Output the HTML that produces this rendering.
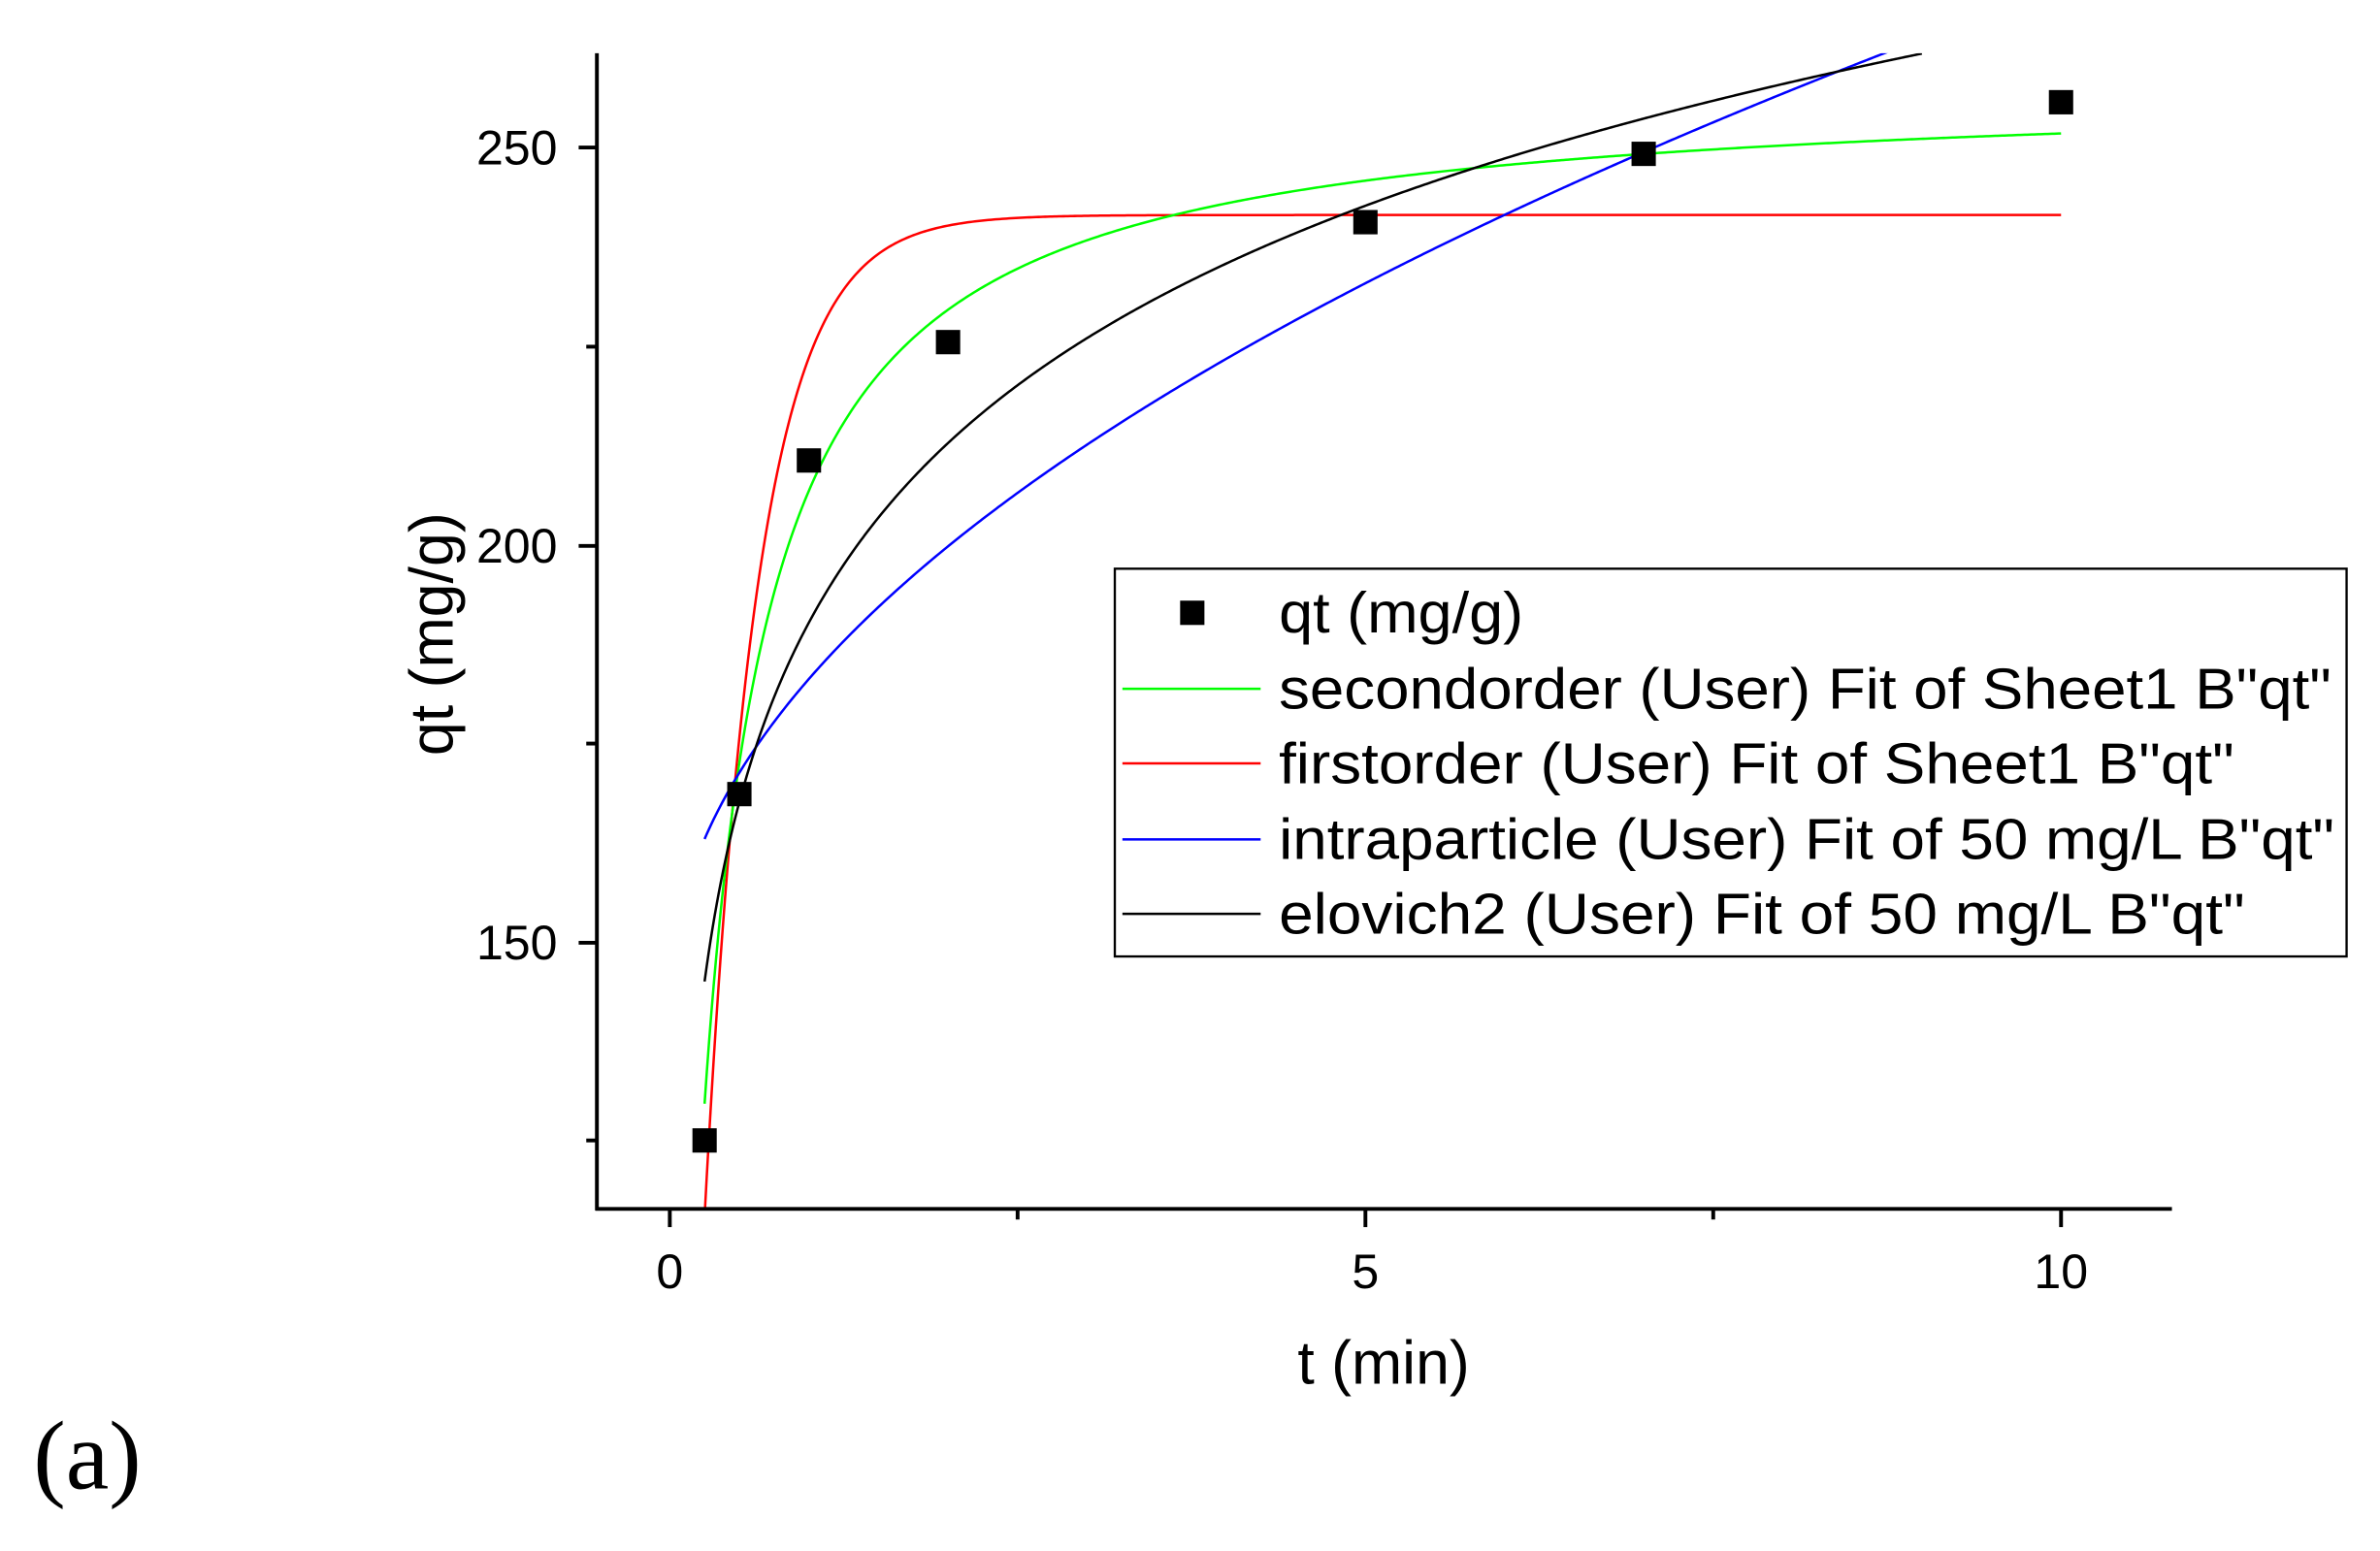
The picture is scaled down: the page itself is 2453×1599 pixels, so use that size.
<!DOCTYPE html>
<html><head><meta charset="utf-8"><style>html,body{margin:0;padding:0;background:#fff}svg{display:block}</style></head>
<body>
<svg id="s" width="2453" height="1599" viewBox="0 0 1567 1020" preserveAspectRatio="none" xmlns="http://www.w3.org/2000/svg" font-family="Liberation Sans, sans-serif">
<defs><clipPath id="c"><rect x="393" y="35" width="1037" height="760"/></clipPath></defs>
<rect width="1567" height="1020" fill="#fff"/>
<g id="curves" clip-path="url(#c)" fill="none" stroke-width="1.6"></g>
<g stroke="#000" stroke-width="2.5" fill="none">
<line x1="393" y1="35" x2="393" y2="796"/>
<line x1="392" y1="795" x2="1430" y2="795"/>
<line x1="381" y1="97" x2="393" y2="97"/><line x1="381" y1="359" x2="393" y2="359"/><line x1="381" y1="620" x2="393" y2="620"/>
<line x1="386" y1="228" x2="393" y2="228"/><line x1="386" y1="489" x2="393" y2="489"/><line x1="386" y1="750" x2="393" y2="750"/>
<line x1="441" y1="795" x2="441" y2="807"/><line x1="899" y1="795" x2="899" y2="807"/><line x1="1357" y1="795" x2="1357" y2="807"/>
<line x1="670" y1="795" x2="670" y2="802"/><line x1="1128" y1="795" x2="1128" y2="802"/>
</g>
<g font-size="32" fill="#000" text-anchor="end">
<text x="367" y="108">250</text><text x="367" y="370">200</text><text x="367" y="631">150</text>
</g>
<g font-size="32" fill="#000" text-anchor="middle">
<text x="441" y="847">0</text><text x="899" y="847">5</text><text x="1357" y="847">10</text>
<text x="911" y="910" font-size="40">t (min)</text>
<text transform="translate(298,417) rotate(-90)" font-size="40">qt (mg/g)</text>
</g>
<g id="pts" fill="#000"></g>
<rect x="734" y="374" width="811" height="255" fill="#fff" stroke="#000" stroke-width="1.5"/>
<rect x="777" y="395" width="16" height="16" fill="#000"/>
<line x1="739" y1="453" x2="830" y2="453" stroke="#00ff00" stroke-width="1.6"/>
<line x1="739" y1="502" x2="830" y2="502" stroke="#ff0000" stroke-width="1.6"/>
<line x1="739" y1="552" x2="830" y2="552" stroke="#0000ff" stroke-width="1.6"/>
<line x1="739" y1="601" x2="830" y2="601" stroke="#000" stroke-width="1.6"/>
<g font-size="38" fill="#000">
<text x="842" y="416" textLength="161" lengthAdjust="spacingAndGlyphs">qt (mg/g)</text>
<text x="842" y="466" textLength="693" lengthAdjust="spacingAndGlyphs">secondorder (User) Fit of Sheet1 B"qt"</text>
<text x="842" y="515" textLength="629" lengthAdjust="spacingAndGlyphs">firstorder (User) Fit of Sheet1 B"qt"</text>
<text x="842" y="565" textLength="695" lengthAdjust="spacingAndGlyphs">intraparticle (User) Fit of 50 mg/L B"qt"</text>
<text x="842" y="614" textLength="636" lengthAdjust="spacingAndGlyphs">elovich2 (User) Fit of 50 mg/L B"qt"</text>
</g>
<text x="22" y="979" font-family="Liberation Serif, serif" font-size="64" fill="#000">(a)</text>
</svg>
<script>
var X=function(t){return 441+t*91.6},Y=function(q){return 97+(250-q)*5.224};
function path(f,t0,t1,col){var d="";for(var i=0;i<=600;i++){var t=t0+(t1-t0)*i/600;d+=(i?"L":"M")+X(t).toFixed(2)+" "+Y(f(t)).toFixed(2);}
var p=document.createElementNS("http://www.w3.org/2000/svg","path");p.setAttribute("d",d);p.setAttribute("stroke",col);document.getElementById("curves").appendChild(p);}
path(function(t){return 241.5*(1-Math.exp(-2.6*t))},0.2,10,"#ff0000");
path(function(t){var h=1042;return h*t/(1+h*t/258)},0.25,10,"#00ff00");
path(function(t){return 40.3*Math.sqrt(t)+142.8},0.25,10,"#0000ff");
path(function(t){return 190.2+32.6*Math.log(t)},0.25,9,"#000000");
var P=[[0.25,125],[0.5,168.6],[1,210.6],[2,225.5],[5,240.6],[7,249.2],[10,255.7]];
P.forEach(function(p){var r=document.createElementNS("http://www.w3.org/2000/svg","rect");r.setAttribute("x",X(p[0])-8);r.setAttribute("y",Y(p[1])-8);r.setAttribute("width",16);r.setAttribute("height",16);document.getElementById("pts").appendChild(r);});
</script>
</body></html>
